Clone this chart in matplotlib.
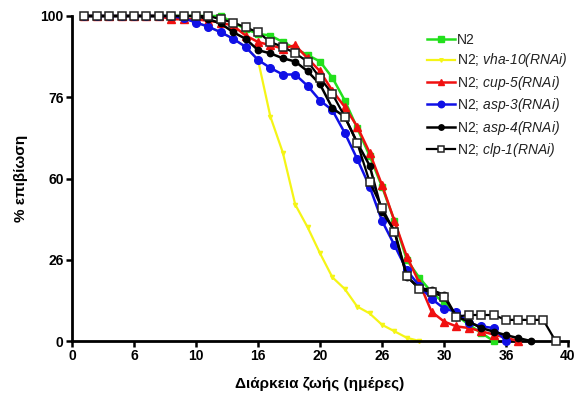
import numpy as np
import matplotlib
matplotlib.use('Agg')
import matplotlib.pyplot as plt

plt.rcParams['font.family']=['Liberation Sans','DejaVu Sans']
plt.rcParams['mathtext.fontset']='custom'
plt.rcParams['mathtext.rm']='Liberation Sans:italic'
plt.rcParams['mathtext.it']='Liberation Sans:italic'

# days and % survival
days_n2=list(range(1,35))
surv_n2=[100,100,100,100,100,100,100,100,100,100,100,100,98,96,94.5,94,92,90,88,86,81,74,65.5,57,47.5,37,25,19.5,15,11.7,8,5,2.5,0]

days_vha=list(range(1,29))
surv_vha=[100,100,100,100,100,100,100,100,99.3,98,96.7,95,93,90.5,86.5,69,58,42,35,27,19.6,16,10.6,8.5,5,3,1,0]

days_cup=list(range(1,37))
surv_cup=[100,100,100,100,100,100,100,99,99,99,98.5,98,97,94,92,91,90,91,87,83,77,72,66,58,48,37,26,18,9,6,4.5,4,3,2,1,0]

days_asp3=list(range(1,36))
surv_asp3=[100,100,100,100,100,100,100,100,99.3,98,96.7,95,93,90.5,86.5,84,82,82,78.5,74,71,64,56,47.5,37,29.5,21.8,17,13,10,9,5.5,4.5,4,0]

days_asp4=list(range(1,38))
surv_asp4=[100,100,100,100,100,100,100,100,100,100,99,97.7,95,93,89.5,88.5,87,86,83,79,71.6,69,61,54,39.8,34,19.8,16.3,15.7,14.2,7.5,6,4,2.9,1.8,0.9,0]

days_clp=list(range(1,40))
surv_clp=[100,100,100,100,100,100,100,100,100,100,100,99,98,96.5,95,92,90.5,88.5,86,81,76,69,61,49,41,33.6,20,16,15,13.6,7.5,8,8,8,6.5,6.5,6.5,6.5,0]

x_ticks=[0,5,10,15,20,25,30,35,40]
x_tick_labels=['0','6','10','16','20','26','30','36','40']
y_ticks=[0,25,50,75,100]
y_tick_labels=['0','26','60','76','100']

fig=plt.figure(figsize=(5.77,4.01),dpi=100)
ax=fig.add_axes([0.1248,0.1496,0.8596,0.8105])

ax.plot(days_vha,surv_vha,color='#f5f516',marker='v',ms=3,lw=1.6,clip_on=False,zorder=2,
        label=r'N2; $vha$-$10(RNAi)$')
ax.plot(days_n2,surv_n2,color='#22e01c',marker='s',ms=4.8,lw=1.8,clip_on=False,zorder=3,
        label='N2')
ax.plot(days_cup,surv_cup,color='#f01010',marker='^',ms=5.2,lw=1.8,clip_on=False,zorder=4,
        label=r'N2; $cup$-$5(RNAi)$')
ax.plot(days_asp3,surv_asp3,color='#1010e6',marker='o',ms=5.5,lw=1.8,clip_on=False,zorder=5,
        label=r'N2; $asp$-$3(RNAi)$')
ax.plot(days_asp4,surv_asp4,color='black',marker='o',ms=4.6,lw=1.8,clip_on=False,zorder=6,
        label=r'N2; $asp$-$4(RNAi)$')
ax.plot(days_clp,surv_clp,color='black',marker='s',ms=5.2,mfc='white',mec='#222222',mew=1.1,lw=1.6,
        clip_on=False,zorder=7,label=r'N2; $clp$-$1(RNAi)$')

ax.set_xlim(0,40)
ax.set_ylim(0,100)
ax.set_xticks(x_ticks)
ax.set_xticklabels(x_tick_labels,fontweight='bold',fontsize=10)
ax.set_yticks(y_ticks)
ax.set_yticklabels(y_tick_labels,fontweight='bold',fontsize=10)
ax.tick_params(direction='out',length=4,width=1.8,pad=2)
for s in ['top','right']:
    ax.spines[s].set_visible(False)
for s in ['left','bottom']:
    ax.spines[s].set_linewidth(2)

ax.set_xlabel('Διάρκεια ζωής (ημέρες)',fontweight='bold',fontsize=11,labelpad=10)
ax.set_ylabel('% επιβίωση',fontweight='bold',fontsize=11,labelpad=9)

handles,labels=ax.get_legend_handles_labels()
order=[1,0,2,3,4,5]
leg=ax.legend([handles[i] for i in order],[labels[i] for i in order],
              loc='upper left',bbox_to_anchor=(0.705,0.965),frameon=False,fontsize=10,
              handlelength=2.0,handletextpad=0.15,labelspacing=0.32,markerscale=0.85,
              borderaxespad=0)
for t in leg.get_texts():
    t.set_color('#222222')

fig.savefig('out.png',dpi=100)
